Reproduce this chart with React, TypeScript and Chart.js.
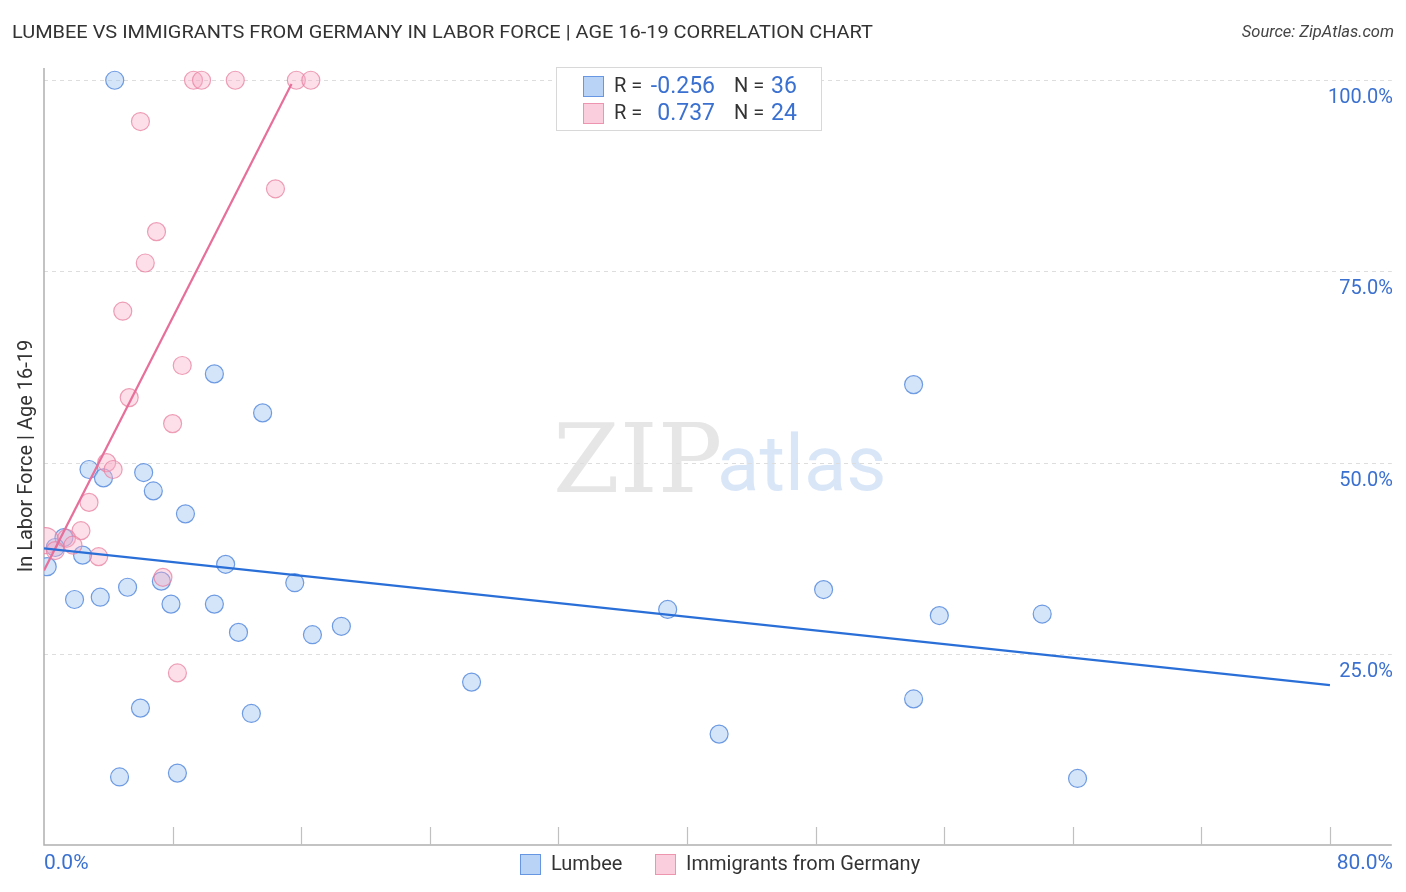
import React, { useEffect, useRef } from "react";
import { Chart, registerables } from "chart.js";
Chart.register(...registerables);

const lumbeeX = [4.4, 10.6, 13.6, 2.8, 6.2, 3.7, 6.8, 8.8, 1.24, 0.7, 2.4, 0.2, 11.3, 7.3, 15.6, 5.2, 1.9, 3.5, 7.9, 10.6, 12.1, 16.7, 18.5, 6.0, 12.9, 4.7, 8.3, 26.6, 38.8, 42.0, 48.5, 54.1, 54.1, 55.7, 62.1, 64.3];
const lumbeeY = [100, 61.6, 56.5, 49.1, 48.7, 48.0, 46.3, 43.3, 40.2, 38.9, 37.9, 36.4, 36.7, 34.5, 34.3, 33.7, 32.1, 32.4, 31.5, 31.5, 27.8, 27.5, 28.6, 17.9, 17.2, 8.9, 9.4, 21.3, 30.8, 14.5, 33.4, 60.2, 19.1, 30.0, 30.2, 8.7];
const germanyX = [0.1, 9.3, 9.8, 11.9, 15.7, 16.6, 6.0, 14.4, 7.0, 6.3, 4.9, 8.6, 5.3, 8.0, 3.9, 4.3, 2.8, 2.3, 1.4, 0.7, 1.8, 3.4, 7.4, 8.3];
const germanyY = [39.8, 100, 100, 100, 100, 100, 94.6, 85.8, 80.2, 76.1, 69.8, 62.7, 58.5, 55.1, 50.0, 49.1, 44.8, 41.1, 40.1, 38.5, 39.2, 37.7, 35.0, 22.5];
const lumbeeTrendX = [0, 80];
const lumbeeTrendY = [38.8, 20.9];
const germanyTrendX = [0, 15.4];
const germanyTrendY = [35.9, 99.5];
const yTickValues = [25, 50, 75, 100];
const yTickLabels = ["25.0%", "50.0%", "75.0%", "100.0%"];
const xTickValues = [8, 16, 24, 32, 40, 48, 56, 64, 72, 80];
const xEndLabels = ["0.0%", "80.0%"];
const seriesNames = ["Lumbee", "Immigrants from Germany"];
const statR = ["-0.256", "0.737"];
const statN = ["36", "24"];
const titleText = "LUMBEE VS IMMIGRANTS FROM GERMANY IN LABOR FORCE | AGE 16-19 CORRELATION CHART";
const sourceText = "Source: ZipAtlas.com";
const yAxisTitle = "In Labor Force | Age 16-19";

const BLUE_FILL = "rgba(160,196,242,0.45)";
const BLUE_STROKE = "rgba(88,140,222,0.85)";
const PINK_FILL = "rgba(247,170,196,0.38)";
const PINK_STROKE = "rgba(232,128,160,0.75)";
const BLUE_LINE = "#2a6fd8";
const PINK_LINE = "#e76f9a";
const LABEL_BLUE = "#3a70d0";
const TEXT = "#333333";
const FONT = "Roboto, 'Noto Sans', sans-serif";

const toPts = (xs: number[], ys: number[]) => xs.map((x, i) => ({ x, y: ys[i] }));

const decorPlugin = {
  id: "decor",
  beforeDatasetsDraw(chart: any) {
    const { ctx, chartArea, scales } = chart;
    const xs = scales.x, ys = scales.y;
    ctx.save();
    // watermark
    ctx.textBaseline = "alphabetic";
    ctx.textAlign = "left";
    ctx.fillStyle = "rgba(200,200,200,0.45)";
    ctx.font = "96px 'DejaVu Serif', 'Liberation Serif', serif";
    ctx.fillText("ZIP", 553, 492);
    ctx.fillStyle = "rgba(170,200,240,0.45)";
    ctx.font = "78px " + FONT;
    ctx.fillText("atlas", 717, 490);
    // grid lines
    ctx.strokeStyle = "#dddddd";
    ctx.lineWidth = 1;
    ctx.setLineDash([4, 4]);
    yTickValues.forEach((v) => {
      const y = Math.round(ys.getPixelForValue(v)) + 0.5;
      ctx.beginPath();
      ctx.moveTo(chartArea.left, y);
      ctx.lineTo(chartArea.right, y);
      ctx.stroke();
    });
    ctx.setLineDash([]);
    // axes
    ctx.strokeStyle = "#b0b0b0";
    ctx.lineWidth = 1.5;
    ctx.beginPath();
    ctx.moveTo(chartArea.left, chartArea.top);
    ctx.lineTo(chartArea.left, chartArea.bottom);
    ctx.lineTo(chartArea.right, chartArea.bottom);
    ctx.stroke();
    ctx.strokeStyle = "#c0c0c0";
    ctx.lineWidth = 1.2;
    xTickValues.forEach((v) => {
      const x = Math.round(xs.getPixelForValue(v)) + 0.5;
      ctx.beginPath();
      ctx.moveTo(x, chartArea.bottom);
      ctx.lineTo(x, chartArea.bottom - 18);
      ctx.stroke();
    });
    ctx.restore();
  },
  afterDraw(chart: any) {
    const { ctx, chartArea, scales } = chart;
    const ys = scales.y;
    ctx.save();
    // title
    ctx.fillStyle = TEXT;
    ctx.textBaseline = "middle";
    ctx.textAlign = "left";
    ctx.font = "18px " + FONT;
    const tw = ctx.measureText(titleText).width;
    const target = 861;
    ctx.save();
    ctx.translate(12, 33);
    ctx.scale(target / tw, 1);
    ctx.fillText(titleText, 0, 0);
    ctx.restore();
    // source
    ctx.font = "italic 16.5px " + FONT;
    ctx.textAlign = "right";
    ctx.fillStyle = "#444";
    ctx.fillText(sourceText, 1394, 33);
    // y tick labels
    ctx.font = "20px " + FONT;
    ctx.fillStyle = LABEL_BLUE;
    ctx.textAlign = "right";
    yTickValues.forEach((v, i) => {
      ctx.fillText(yTickLabels[i], 1393, ys.getPixelForValue(v) + 18);
    });
    // x end labels
    ctx.font = "21px " + FONT;
    ctx.textAlign = "left";
    ctx.fillText(xEndLabels[0], chartArea.left, 864);
    ctx.textAlign = "right";
    ctx.fillText(xEndLabels[1], 1393, 864);
    // y axis title
    ctx.save();
    ctx.translate(27, 456);
    ctx.rotate(-Math.PI / 2);
    ctx.textAlign = "center";
    ctx.fillStyle = TEXT;
    ctx.font = "20px " + FONT;
    ctx.fillText(yAxisTitle, 0, 0);
    ctx.restore();
    // stats legend
    ctx.fillStyle = "#ffffff";
    ctx.strokeStyle = "#d8d8d8";
    ctx.lineWidth = 1;
    ctx.fillRect(556, 67, 265, 63);
    ctx.strokeRect(556.5, 67.5, 265, 63);
    const rows = [87, 114];
    const fills = ["rgba(160,196,242,0.75)", "rgba(250,190,210,0.75)"];
    const strokes = [BLUE_STROKE, PINK_STROKE];
    rows.forEach((y, i) => {
      ctx.fillStyle = fills[i];
      ctx.strokeStyle = strokes[i];
      ctx.fillRect(583, y - 11, 21, 21);
      ctx.strokeRect(583.5, y - 10.5, 20, 20);
      ctx.font = "20px " + FONT;
      ctx.textAlign = "left";
      ctx.fillStyle = TEXT;
      ctx.fillText("R = ", 614, y);
      ctx.fillText("N = ", 734, y);
      ctx.fillStyle = LABEL_BLUE;
      ctx.font = "23px " + FONT;
      ctx.textAlign = "right";
      ctx.fillText(statR[i], 715, y);
      ctx.textAlign = "left";
      ctx.fillText(statN[i], 771, y);
    });
    // bottom legend
    const lx = [520, 655];
    lx.forEach((x, i) => {
      ctx.fillStyle = fills[i];
      ctx.strokeStyle = strokes[i];
      ctx.fillRect(x, 854, 21, 21);
      ctx.strokeRect(x + 0.5, 854.5, 20, 20);
      ctx.fillStyle = TEXT;
      ctx.font = "20px " + FONT;
      ctx.textAlign = "left";
      ctx.fillText(seriesNames[i], x + 31, 865);
    });
    ctx.restore();
  },
};

export default function App() {
  const ref = useRef<HTMLCanvasElement | null>(null);
  useEffect(() => {
    if (!ref.current) return;
    const chart = new Chart(ref.current, {
      type: "scatter",
      data: {
        datasets: [
          {
            type: "line",
            label: "Lumbee trend",
            data: toPts(lumbeeTrendX, lumbeeTrendY),
            borderColor: BLUE_LINE,
            borderWidth: 2.2,
            pointRadius: 0,
            fill: false,
          } as any,
          {
            type: "line",
            label: "Germany trend",
            data: toPts(germanyTrendX, germanyTrendY),
            borderColor: PINK_LINE,
            borderWidth: 2.2,
            pointRadius: 0,
            fill: false,
          } as any,
          {
            label: seriesNames[1],
            data: toPts(germanyX, germanyY),
            backgroundColor: PINK_FILL,
            borderColor: PINK_STROKE,
            borderWidth: 1.2,
            pointRadius: (c: any) => (c.dataIndex === 0 ? 13 : 9),
          },
          {
            label: seriesNames[0],
            data: toPts(lumbeeX, lumbeeY),
            backgroundColor: BLUE_FILL,
            borderColor: BLUE_STROKE,
            borderWidth: 1.2,
            pointRadius: 9,
          },
        ],
      },
      options: {
        animation: false,
        responsive: false,
        devicePixelRatio: 1,
        layout: { padding: { left: 44, right: 13, top: 68, bottom: 47 } },
        plugins: { legend: { display: false }, tooltip: { enabled: false }, title: { display: false } },
        scales: {
          x: { type: "linear", min: 0, max: 83.85, display: false },
          y: { type: "linear", min: 0, max: 101.6, display: false },
        },
      },
      plugins: [decorPlugin],
    });
    return () => chart.destroy();
  }, []);
  return (
    <div style={{ position: "absolute", left: 0, top: 0, width: 1406, height: 892, background: "#fff" }}>
      <canvas ref={ref} width={1406} height={892} style={{ width: 1406, height: 892, display: "block" }} />
    </div>
  );
}
